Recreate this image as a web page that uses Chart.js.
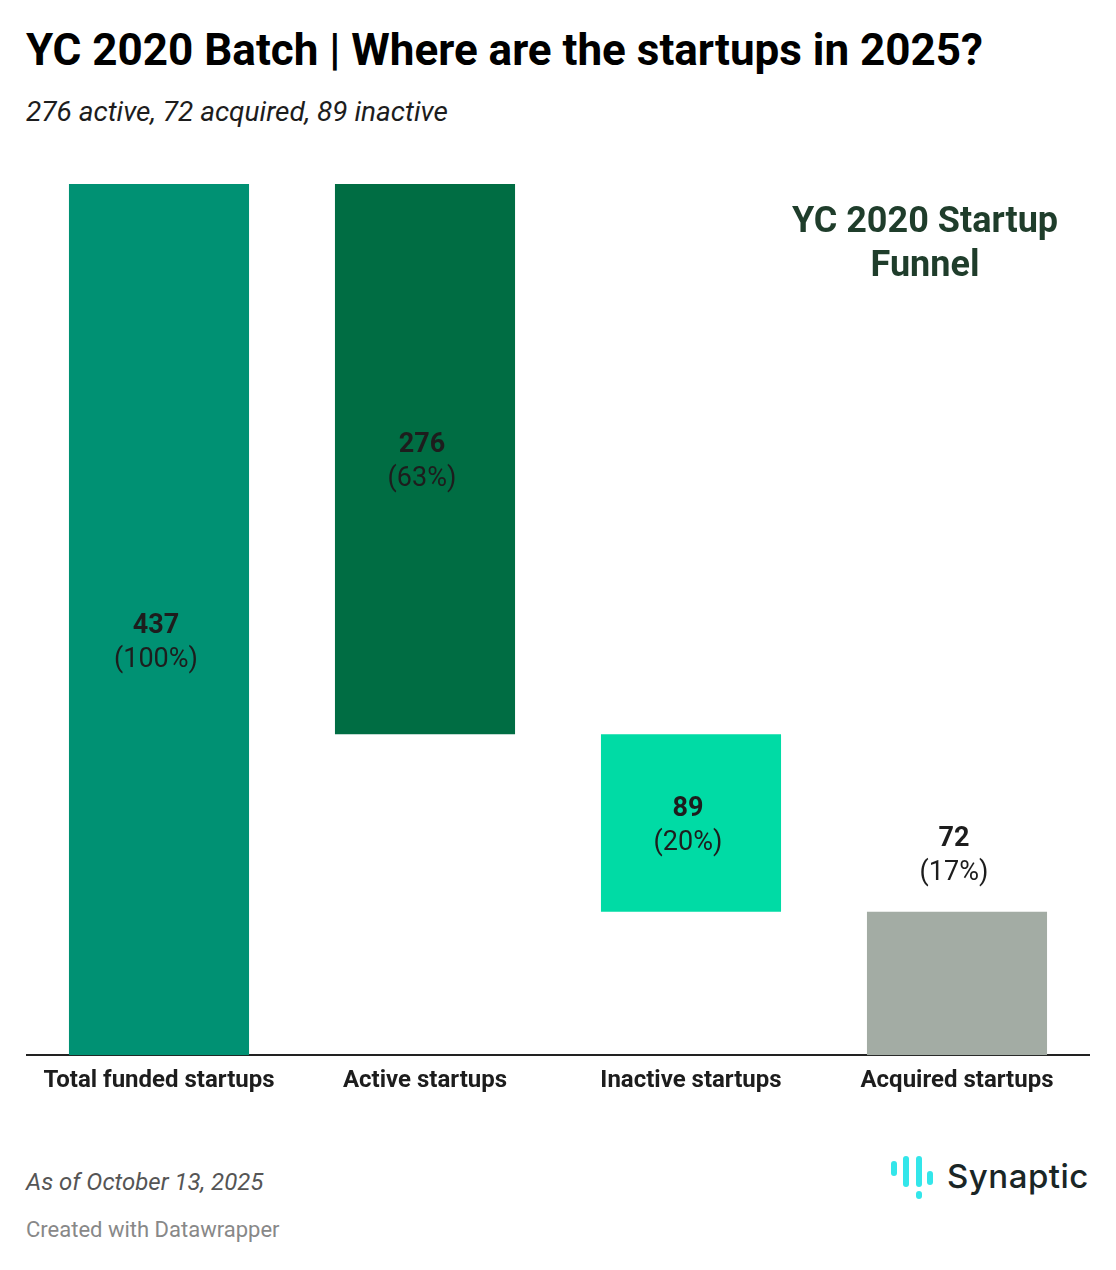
<!DOCTYPE html>
<html>
<head>
<meta charset="utf-8">
<script src="https://cdn.jsdelivr.net/npm/chart.js@4"></script>
<style>
  body { margin: 0; background: #fff; font-family: Roboto, sans-serif; }
  #page { position: relative; width: 1116px; height: 1270px; }
  h1 { position: absolute; left: 26px; top: 24px; margin: 0; font-size: 44px; font-weight: 700; color: #000; line-height: 52px; white-space: nowrap; }
  .sub { position: absolute; left: 26px; top: 95px; font-size: 28px; font-style: italic; color: #1d1d1d; line-height: 34px; }
  .note { position: absolute; left: 725px; width: 400px; top: 198px; text-align: center; font-size: 36px; font-weight: 700; color: #1f3d2b; line-height: 44px; }
  #wrap { position: absolute; left: 26px; top: 170px; width: 1064px; height: 936px; }
  .asof { position: absolute; left: 26px; top: 1168px; font-size: 24px; font-style: italic; color: #555; line-height: 28px; }
  .credit { position: absolute; left: 26px; top: 1217px; font-size: 22px; color: #888; line-height: 26px; }
  .logo { position: absolute; left: 890px; top: 1155px; height: 46px; }
  .logo .bar { position: absolute; width: 6px; border-radius: 3px; background: #33e6ea; }
  .logo .word { position: absolute; left: 57px; top: 1px; font-size: 33px; font-weight: 500; color: #1a2626; font-family: Inter, Roboto, sans-serif; letter-spacing: 0.5px; line-height: 40px; }
</style>
</head>
<body>
<div id="page">
  <h1>YC 2020 Batch | Where are the startups in 2025?</h1>
  <div class="sub">276 active, 72 acquired, 89 inactive</div>
  <div id="wrap"><canvas id="plot-canvas"></canvas></div>
  <div class="note">YC 2020 Startup<br>Funnel</div>
  <div class="asof">As of October 13, 2025</div>
  <div class="credit">Created with Datawrapper</div>
  <div class="logo">
    <div class="bar" style="left:1px;top:6px;height:15px"></div>
    <div class="bar" style="left:13px;top:1px;height:31px"></div>
    <div class="bar" style="left:26px;top:1px;height:31px"></div>
    <div class="bar" style="left:37px;top:16px;height:14px"></div>
    <div class="bar" style="left:26px;top:36px;height:8px"></div>
    <div class="word">Synaptic</div>
  </div>
</div>
<script>
"use strict";

const categories = ['Total funded startups', 'Active startups', 'Inactive startups', 'Acquired startups'];
const counts = [437, 276, 89, 72];
const percents = [100, 63, 20, 17];
const barBottoms = [0, 161, 72, 0];
const barTops = [437, 437, 161, 72];
const barColors = ['#009173', '#006d43', '#00dba5', '#a3aca4'];

// bar value labels: inside the bar if it is tall enough, otherwise on top
const valueLabels = {
    id: 'valueLabels',
    afterDatasetsDraw(chart) {
        const ctx = chart.ctx;
        const meta = chart.getDatasetMeta(0);
        ctx.save();
        ctx.textAlign = 'center';
        ctx.textBaseline = 'middle';
        ctx.fillStyle = '#1d1d1d';
        meta.data.forEach((bar, i) => {
            const top = Math.min(bar.y, bar.base);
            const bottom = Math.max(bar.y, bar.base);
            let mid;
            if (bottom - top > 160) {
                mid = (top + bottom) / 2 + 3;
                if (i === 0) mid += 21; // total label sits a bit lower
            } else {
                mid = top - 55;
            }
            ctx.font = 'bold 27px Roboto';
            ctx.fillText(String(counts[i]), bar.x - 3, mid - 17);
            ctx.font = '27px Roboto';
            ctx.fillText('(' + percents[i] + '%)', bar.x - 3, mid + 17);
        });
        ctx.restore();
    }
};

let ctx = document.getElementById('plot-canvas').getContext('2d');
let chart = new Chart(ctx, {
    type: 'bar',
    data: {
        labels: categories,
        datasets: [{
            data: barBottoms.map((b, i) => [b, barTops[i]]),
            backgroundColor: barColors,
            borderWidth: 0,
            borderSkipped: false,
            barPercentage: 0.677,
            categoryPercentage: 1
        }]
    },
    options: {
        responsive: true,
        maintainAspectRatio: false,
        animation: false,
        layout: { padding: { top: 14, left: 0, right: 0, bottom: 0 } },
        plugins: {
            legend: { display: false },
            tooltip: { enabled: false }
        },
        scales: {
            x: {
                grid: { display: false, drawTicks: false, tickLength: 0 },
                border: { display: true, color: '#222', width: 2 },
                ticks: {
                    color: '#1d1d1d',
                    padding: 11,
                    font: { family: 'Roboto', size: 24, weight: 'bold' }
                }
            },
            y: {
                display: false,
                min: 0,
                max: 437
            }
        }
    },
    plugins: [valueLabels]
});
</script>
</body>
</html>
